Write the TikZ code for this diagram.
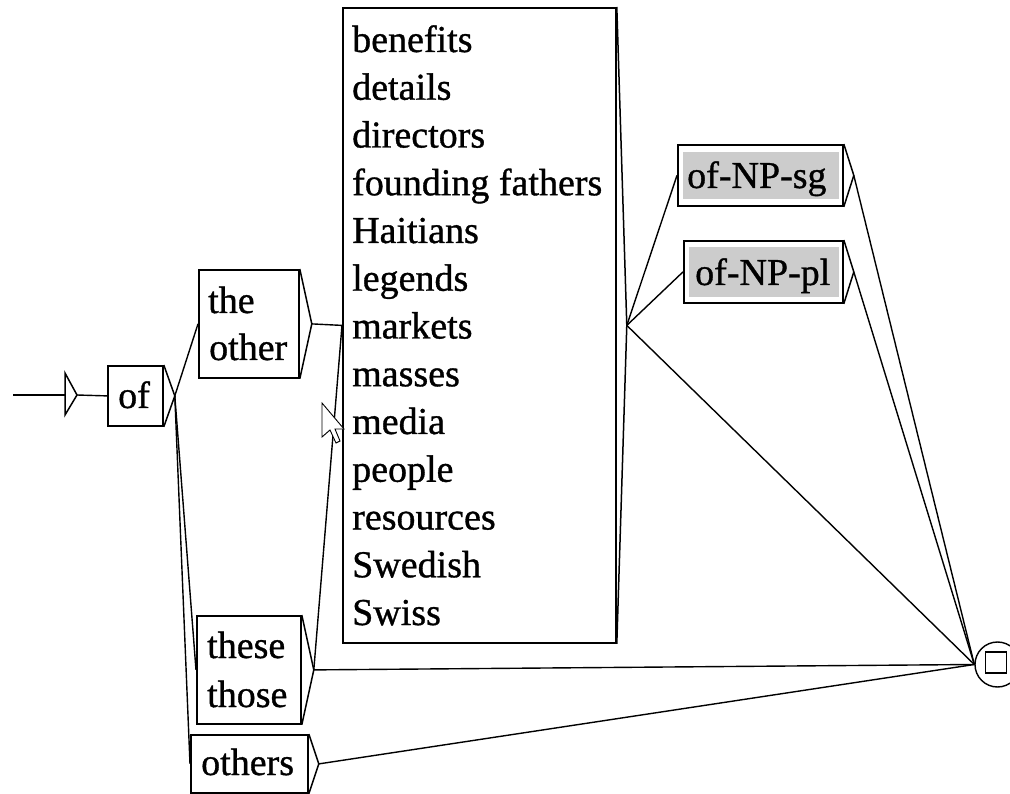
\documentclass[tikz,border=0pt]{standalone}
\usepackage{fontspec}
\setmainfont{Liberation Serif}
\newfontfamily\graphfont{Liberation Serif}[FakeBold=0.9]
\begin{document}
\begin{tikzpicture}[x=1pt,y=-1pt,
  box/.style={draw, line width=1.8pt, rectangle, inner sep=0pt, anchor=north west},
  conn/.style={line width=1.4pt},
  lbl/.style={anchor=base west, inner sep=0pt, font=\graphfont\fontsize{38}{44}\selectfont},
  tri/.style={line width=1.5pt, line join=miter},
  shade/.style={fill=black!20}]
\useasboundingbox (0,0) rectangle (1010,794);

% boxes
\node[box, minimum width=55pt, minimum height=60pt] (of) at (107,365) {};
\node[box, minimum width=100pt, minimum height=108pt] (other) at (198,269) {};
\node[box, minimum width=104pt, minimum height=108pt] (these) at (196,615) {};
\node[box, minimum width=117pt, minimum height=58pt] (others) at (190,734) {};
\node[box, minimum width=273pt, minimum height=635pt] (big) at (342,7) {};
\node[box, minimum width=165pt, minimum height=61pt] (sg) at (677,144) {};
\node[box, minimum width=159pt, minimum height=62pt] (pl) at (683,240) {};
\fill[shade] (683,152) rectangle (839,199);
\fill[shade] (689,247) rectangle (839,297);

% final state
\node[draw, circle, line width=1.4pt, minimum size=45pt, inner sep=0pt] (fin) at (997.5,664.5) {};
\node[draw, rectangle, line width=1.8pt, minimum size=21pt, inner sep=0pt] (finsq) at (996,662.5) {};

% initial state
\coordinate (start) at (13,395);
\coordinate (initT) at (65,373);
\coordinate (initB) at (65,415);
\coordinate (initA) at (77,395);
\draw[conn] (start) -- (65,395);
\draw[tri] (initT) -- (initA) -- (initB) -- cycle;
\draw[conn] (initA) -- (of.west);

% apexes of output triangles
\coordinate (ofA) at ([xshift=11pt]of.east);
\coordinate (otherA) at ([xshift=12pt]other.east);
\coordinate (theseA) at ([xshift=12pt]these.east);
\coordinate (othersA) at ([xshift=10pt]others.east);
\coordinate (bigA) at ([xshift=10pt]big.east);
\coordinate (sgA) at ([xshift=10pt]sg.east);
\coordinate (plA) at ([xshift=10pt]pl.east);
\foreach \n in {of,other,these,others,big,sg,pl}
  \draw[tri] (\n.north east) -- (\n A) -- (\n.south east);

% connectors
\draw[conn] (ofA) -- (other.west);
\draw[conn] (ofA) -- (these.west);
\draw[conn] (ofA) -- (others.west);
\draw[conn] (otherA) -- (big.west);
\draw[conn] (theseA) -- (big.west);
\draw[conn] (theseA) -- (fin.west);
\draw[conn] (othersA) -- (fin.west);
\draw[conn] (bigA) -- (sg.west);
\draw[conn] (bigA) -- (pl.west);
\draw[conn] (bigA) -- (fin.west);
\draw[conn] (sgA) -- (fin.west);
\draw[conn] (plA) -- (fin.west);

% labels
\node[lbl] (tof) at (118,408) {of};
\node[lbl] (tthe) at (208,313) {the};
\node[lbl] (tother) at (209,360) {other};
\node[lbl] (tthese) at (207,658) {these};
\node[lbl] (tthose) at (207,707) {those};
\node[lbl] (tothers) at (201,775) {others};
\node[lbl] (tsg) at (687,188) {of-NP-sg};
\node[lbl] (tpl) at (695,285) {of-NP-pl};
\foreach \w [count=\i from 0] in {benefits,details,directors,founding fathers,Haitians,legends,markets,masses,media,people,resources,Swedish,Swiss}
  \node[lbl] (w\i) at (352,{52+47.75*\i}) {\w};

% mouse pointer
\draw[line width=0.9pt, fill=white, line join=miter]
  (322,403) -- (322,437) -- (330,430) -- (336,443) -- (340,441) -- (335,429) -- (344,429) -- cycle;
\end{tikzpicture}
\end{document}
